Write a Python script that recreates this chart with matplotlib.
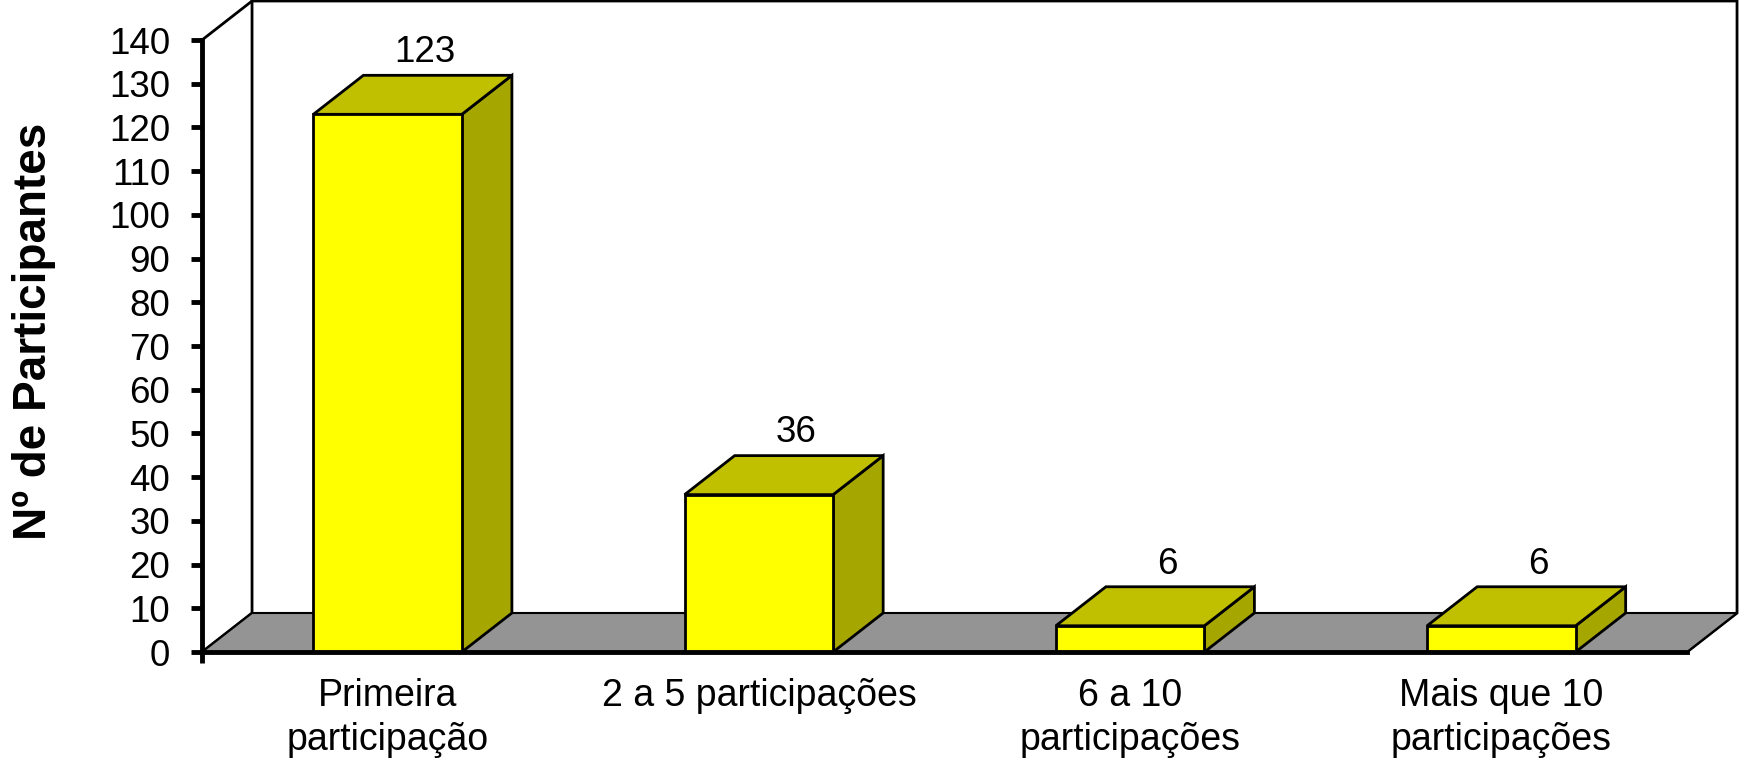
import matplotlib
matplotlib.use("Agg")
import matplotlib.pyplot as plt
from matplotlib.patches import Polygon

plt.rcParams['font.family'] = ['Liberation Sans', 'DejaVu Sans']

#values
categories = ["Primeira\nparticipação", "2 a 5 participações", "6 a 10\nparticipações", "Mais que 10\nparticipações"]
values = [123, 36, 6, 6]
yticks = list(range(0, 150, 10))

W, H = 1742, 763
bar_w = 0.40       #category units
dep_x = 50 / 371   #fake 3d depth, category units
dep_y = 39 / 612 * 140   #fake 3d depth, value units

fig = plt.figure(figsize=(W / 100, H / 100), dpi=100)
ax = fig.add_axes([202 / W, 1 - 652 / H, (1687 - 202) / W, (652 - 40) / H])
ax.set_xlim(-0.5, 3.5)
ax.set_ylim(0, 140)
ax.patch.set_visible(False)

#walls and floor
x0, x1 = -0.5, 3.5
wall = Polygon([(x0, 0), (x0 + dep_x, dep_y), (x0 + dep_x, 140 + dep_y), (x1 + dep_x, 140 + dep_y),
                (x1 + dep_x, dep_y), (x1, 0)], closed=False, fc='white', ec='black', lw=2, clip_on=False, zorder=1)
ax.add_patch(wall)
ax.plot([x0, x0 + dep_x], [140, 140 + dep_y], color='black', lw=2, clip_on=False, zorder=1)
floor = Polygon([(x0, 0), (x0 + dep_x, dep_y), (x1 + dep_x, dep_y), (x1, 0)],
                fc='#949494', ec='black', lw=1.5, clip_on=False, zorder=2)
ax.add_patch(floor)

#bars
for i, v in enumerate(values):
    l, r = i - bar_w / 2, i + bar_w / 2
    ax.add_patch(Polygon([(r, 0), (r + dep_x, dep_y), (r + dep_x, v + dep_y), (r, v)],
                         fc='#A6A600', ec='black', lw=2, clip_on=False, zorder=3))
    ax.add_patch(Polygon([(l, v), (l + dep_x, v + dep_y), (r + dep_x, v + dep_y), (r, v)],
                         fc='#C0C000', ec='black', lw=2, clip_on=False, zorder=3))
    ax.add_patch(Polygon([(l, 0), (l, v), (r, v), (r, 0)],
                         fc='#FFFF00', ec='black', lw=2, clip_on=False, zorder=4))
    ax.annotate(str(v), xy=(i + 0.1, v + dep_y), xytext=(0, 9.5), textcoords='offset points',
                ha='center', va='baseline', fontsize=26.5, color='black', zorder=6)

#axes
for s in ['top', 'right']:
    ax.spines[s].set_visible(False)
for s in ['left', 'bottom']:
    ax.spines[s].set_linewidth(3.5)
    ax.spines[s].set_zorder(5)
ax.set_yticks(yticks)
ax.tick_params(axis='y', length=8, width=3.5, labelsize=26.5, pad=15)
ax.set_xticks(range(len(categories)))
ax.set_xticklabels(categories, fontsize=27, linespacing=1.28)
ax.tick_params(axis='x', length=0, pad=19)
ax.set_xticks([-0.5], minor=True)
ax.tick_params(axis='x', which='minor', length=8, width=3.5)

fig.text(34 / W, 1 - 331 / H, "Nº de Participantes", rotation=90, ha='center', va='center',
         fontsize=33, fontweight='bold')

fig.savefig("out.png", dpi=100, facecolor='white')
